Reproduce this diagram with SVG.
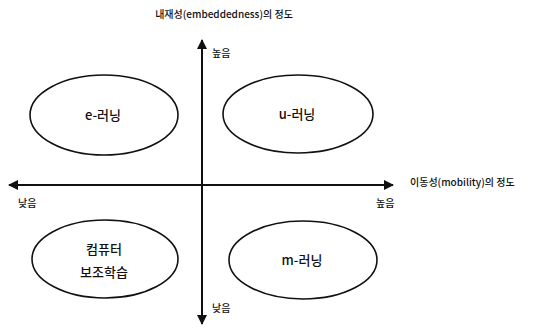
<svg xmlns="http://www.w3.org/2000/svg" width="541" height="329" viewBox="0 0 541 329">
<style>
.node ellipse{fill:#fff;stroke:#111;stroke-width:1.6}
.lbl{font-family:"Noto Sans CJK KR","Noto Sans",sans-serif;font-size:13px;font-weight:500;fill:#111;text-anchor:middle}
.ax{font-family:"Noto Sans CJK KR","Noto Sans",sans-serif;font-size:10px;font-weight:500;fill:#111}
.axis{stroke:#111;stroke-width:2;fill:none}
</style>
<defs>
<marker id="ah" viewBox="0 0 10 10" refX="9" refY="5" markerWidth="5" markerHeight="5" orient="auto" markerUnits="strokeWidth">
<path d="M0,0 L10,5 L0,10 z" fill="#111"/>
</marker>
</defs>
<rect width="541" height="329" fill="#fff"/>
<g id="connectors">
<line class="axis" x1="202" y1="316" x2="202" y2="40" marker-end="url(#ah)"/>
<line class="axis" x1="202" y1="60" x2="202" y2="324" marker-end="url(#ah)"/>
<line class="axis" x1="20" y1="185" x2="393" y2="185" marker-end="url(#ah)"/>
<line class="axis" x1="380" y1="185" x2="9" y2="185" marker-end="url(#ah)"/>
</g>
<g id="labels">
<text class="ax" x="224" y="18" text-anchor="middle">내재성(embeddedness)의 정도</text>
<text class="ax" x="212" y="57">높음</text>
<text class="ax" x="410" y="186">이동성(mobility)의 정도</text>
<text class="ax" x="376" y="207">높음</text>
<text class="ax" x="18" y="207">낮음</text>
<text class="ax" x="212" y="312">낮음</text>
</g>
<g id="e-learning" class="node">
<ellipse cx="104" cy="115" rx="74" ry="40"/>
<text class="lbl" x="103" y="120">e-러닝</text>
</g>
<g id="u-learning" class="node">
<ellipse cx="298" cy="114" rx="75" ry="39"/>
<text class="lbl" x="297" y="119">u-러닝</text>
</g>
<g id="cai" class="node">
<ellipse cx="105" cy="259" rx="73" ry="39"/>
<text class="lbl" x="104" y="254">컴퓨터</text>
<text class="lbl" x="104" y="277">보조학습</text>
</g>
<g id="m-learning" class="node">
<ellipse cx="303" cy="260" rx="74" ry="39"/>
<text class="lbl" x="302" y="265">m-러닝</text>
</g>
</svg>
